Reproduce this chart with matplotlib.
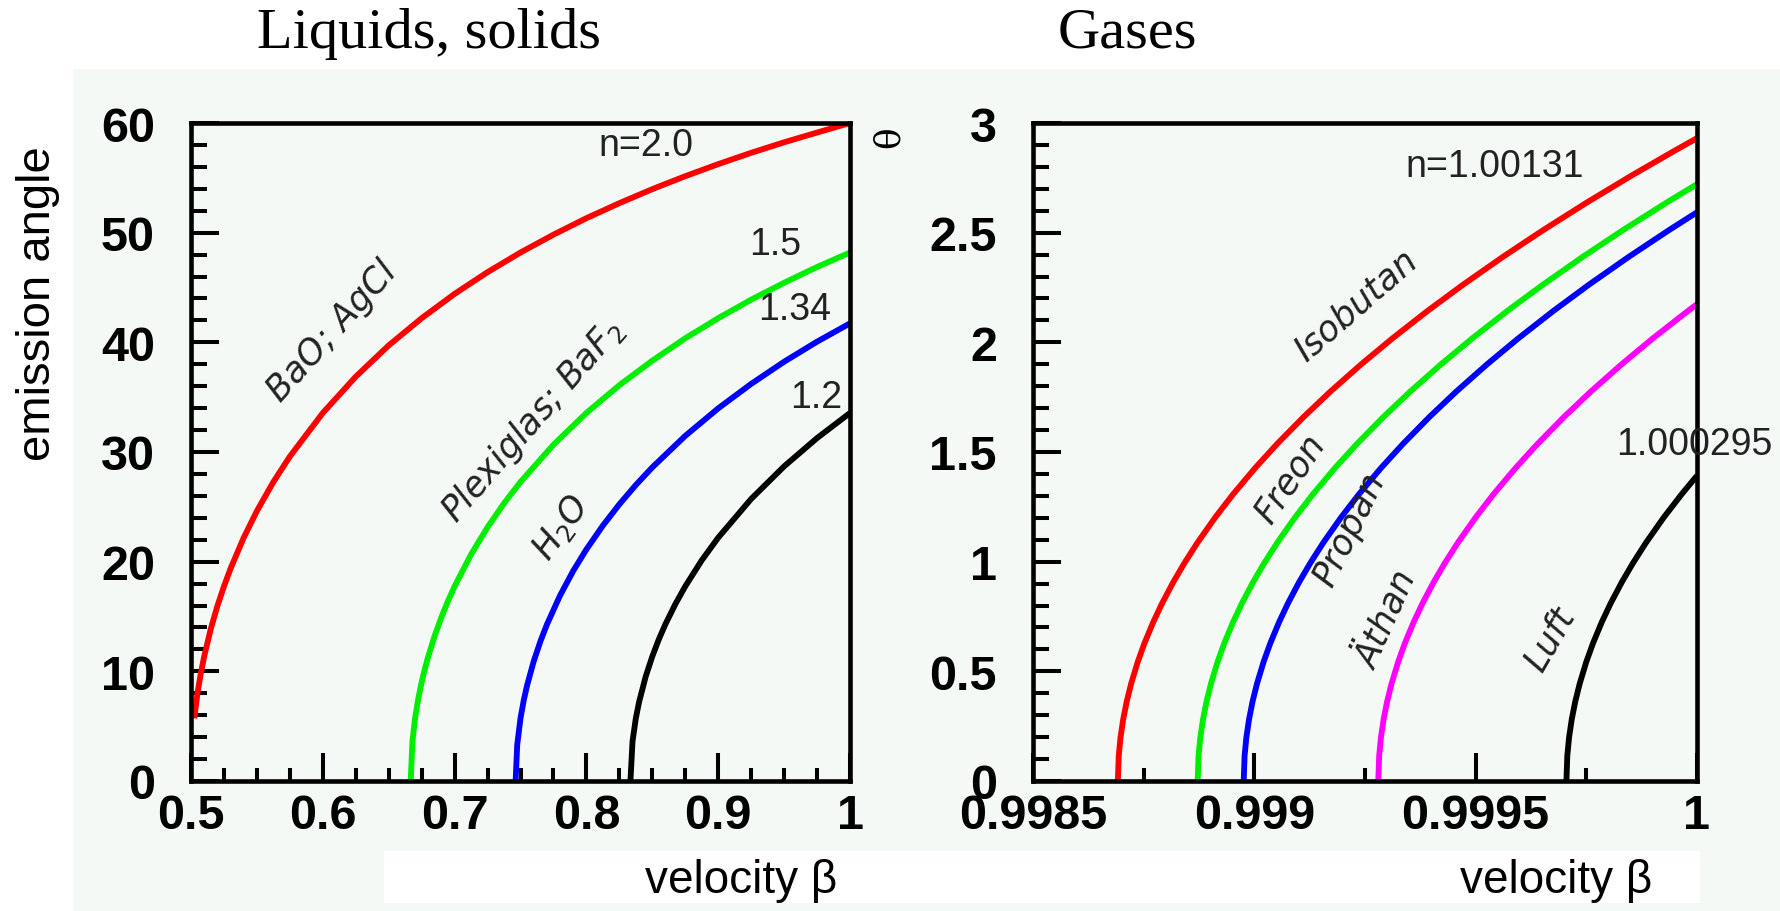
import matplotlib
matplotlib.use("Agg")
import matplotlib.pyplot as plt
from matplotlib.patches import Rectangle
from matplotlib.ticker import FixedLocator, MultipleLocator

# ---------------- data ----------------
# Left panel: liquids / solids, emission angle in degrees vs beta
red_beta = [0.5025, 0.505, 0.5075, 0.51, 0.515, 0.52, 0.525, 0.53, 0.54, 0.55, 0.5625, 0.575,
            0.6, 0.625, 0.65, 0.675, 0.7, 0.725, 0.75, 0.775, 0.8, 0.825, 0.85, 0.875, 0.9,
            0.925, 0.95, 0.975, 1.0]
red_theta = [5.72, 8.07, 9.86, 11.36, 13.87, 15.95, 17.75, 19.37, 22.19, 24.62, 27.27, 29.59,
             33.56, 36.87, 39.72, 42.20, 44.42, 46.40, 48.19, 49.82, 51.32, 52.69, 53.97, 55.15,
             56.25, 57.28, 58.24, 59.13, 60.0]

green_beta = [0.6667, 0.668, 0.67, 0.6725, 0.675, 0.6775, 0.68, 0.685, 0.69, 0.695, 0.7, 0.7125,
              0.725, 0.7375, 0.75, 0.775, 0.8, 0.825, 0.85, 0.875, 0.9, 0.925, 0.95, 0.975, 1.0]
green_theta = [0.0, 3.62, 5.72, 7.55, 9.01, 10.26, 11.36, 13.28, 14.94, 16.42, 17.75, 20.66,
               23.14, 25.32, 27.27, 30.66, 33.56, 36.09, 38.33, 40.37, 42.20, 43.89, 45.43,
               46.87, 48.19]

blue_beta = [0.7463, 0.7475, 0.75, 0.7525, 0.755, 0.76, 0.765, 0.77, 0.78, 0.79, 0.8, 0.8125,
             0.825, 0.8375, 0.85, 0.875, 0.9, 0.925, 0.95, 0.975, 1.0]
blue_theta = [0.0, 3.29, 5.72, 7.38, 8.72, 10.91, 12.70, 14.26, 16.91, 19.16, 21.12, 23.29,
              25.23, 26.99, 28.60, 31.47, 33.98, 36.21, 38.23, 40.06, 41.73]

black_beta = [0.8334, 0.835, 0.8375, 0.84, 0.845, 0.85, 0.855, 0.86, 0.8675, 0.875, 0.8875,
              0.9, 0.925, 0.95, 0.975, 1.0]
black_theta = [0.0, 3.62, 5.72, 7.22, 9.53, 11.36, 12.93, 14.31, 16.13, 17.75, 20.12,
               22.19, 25.72, 28.69, 31.27, 33.56]

# Right panel: gases, theta in degrees vs beta
gas_red_beta = [0.9986917, 0.9986937, 0.9986977, 0.9987037, 0.9987117, 0.9987217, 0.9987367,
                0.9987517, 0.9987717, 0.9987917, 0.9988167, 0.9988417, 0.9988717, 0.9989117,
                0.9989517, 0.9990017, 0.9990517, 0.9991117, 0.9991717, 0.9992417, 0.9993117,
                0.9993917, 0.9994717, 0.9995617, 0.9996517, 0.9997517, 0.9998517, 0.9999517, 1.0]
gas_red_theta = [0.0, 0.1146, 0.1985, 0.2807, 0.3624, 0.4438, 0.5436, 0.6277, 0.7248, 0.8103,
                 0.9059, 0.9924, 1.0871, 1.2019, 1.3066, 1.4267, 1.5374, 1.6606, 1.7753, 1.9003,
                 2.0176, 2.1439, 2.2630, 2.3900, 2.5106, 2.6382, 2.7598, 2.8763, 2.931]

gas_green_beta = [0.998872, 0.998874, 0.998878, 0.998884, 0.998892, 0.998902, 0.998917,
                  0.998932, 0.998952, 0.998972, 0.998997, 0.999022, 0.999052, 0.999092,
                  0.999132, 0.999182, 0.999232, 0.999292, 0.999352, 0.999422, 0.999492,
                  0.999572, 0.999652, 0.999742, 0.999832, 0.999932, 1.0]
gas_green_theta = [0.0, 0.1146, 0.1985, 0.2807, 0.3624, 0.4438, 0.5436, 0.6277, 0.7248, 0.8103,
                   0.9059, 0.9924, 1.0871, 1.2019, 1.3066, 1.4267, 1.5374, 1.6606, 1.7753,
                   1.9003, 2.0176, 2.1439, 2.2630, 2.3900, 2.5106, 2.6382, 2.721]

gas_blue_beta = [0.998976, 0.998978, 0.998982, 0.998988, 0.998996, 0.999006, 0.999021,
                 0.999036, 0.999056, 0.999076, 0.999101, 0.999126, 0.999156, 0.999196,
                 0.999236, 0.999286, 0.999336, 0.999396, 0.999456, 0.999526, 0.999596,
                 0.999676, 0.999756, 0.999846, 0.999936, 1.0]
gas_blue_theta = [0.0, 0.1146, 0.1985, 0.2807, 0.3624, 0.4438, 0.5436, 0.6277, 0.7248, 0.8103,
                  0.9059, 0.9924, 1.0871, 1.2019, 1.3066, 1.4267, 1.5374, 1.6606, 1.7753,
                  1.9003, 2.0176, 2.1439, 2.2630, 2.3900, 2.5106, 2.593]

gas_mag_beta = [0.99928, 0.999282, 0.999286, 0.999292, 0.9993, 0.99931, 0.999325, 0.99934,
                0.99936, 0.99938, 0.999405, 0.99943, 0.99946, 0.9995, 0.99954, 0.99959,
                0.99964, 0.9997, 0.99976, 0.99983, 0.9999, 0.99998, 1.0]
gas_mag_theta = [0.0, 0.1146, 0.1985, 0.2807, 0.3624, 0.4438, 0.5436, 0.6277, 0.7248, 0.8103,
                 0.9059, 0.9924, 1.0871, 1.2019, 1.3066, 1.4267, 1.5374, 1.6606, 1.7753,
                 1.9003, 2.0176, 2.1439, 2.174]

gas_black_beta = [0.999705, 0.999707, 0.999711, 0.999717, 0.999725, 0.999735, 0.99975,
                  0.999765, 0.999785, 0.999805, 0.99983, 0.999855, 0.999885, 0.999925,
                  0.999965, 1.0]
gas_black_theta = [0.0, 0.1146, 0.1985, 0.2807, 0.3624, 0.4438, 0.5436, 0.6277, 0.7248, 0.8103,
                   0.9059, 0.9924, 1.0871, 1.2019, 1.3066, 1.392]

left_xticks = [0.5, 0.6, 0.7, 0.8, 0.9, 1.0]
left_xticklabels = ["0.5", "0.6", "0.7", "0.8", "0.9", "1"]
left_yticks = [0, 10, 20, 30, 40, 50, 60]
left_yticklabels = ["0", "10", "20", "30", "40", "50", "60"]
right_xticks = [0.9985, 0.999, 0.9995, 1.0]
right_xticklabels = ["0.9985", "0.999", "0.9995", "1"]
right_yticks = [0, 0.5, 1, 1.5, 2, 2.5, 3]
right_yticklabels = ["0", "0.5", "1", "1.5", "2", "2.5", "3"]

# ---------------- figure ----------------
W, H = 1780, 912
DPI = 100
fig = plt.figure(figsize=(W / DPI, H / DPI), dpi=DPI)
fig.patch.set_facecolor("white")

TINT = "#f5f9f6"


def fx(px):
    return px / W


def fy(py):
    return 1 - py / H


# background tinted area and white box behind the axis titles
fig.add_artist(Rectangle((fx(73), 0), 1 - fx(73), fy(70), transform=fig.transFigure,
                         facecolor=TINT, edgecolor="none", zorder=-10))
fig.add_artist(Rectangle((fx(384), fy(904)), fx(1700 - 384), (904 - 852) / H,
                         transform=fig.transFigure, facecolor="white", edgecolor="none",
                         zorder=-9))

axL = fig.add_axes([fx(191), fy(782), fx(850 - 191), (782 - 124) / H])
axR = fig.add_axes([fx(1033), fy(782), fx(1697 - 1033), (782 - 124) / H])

tick_font = dict(family="Liberation Sans", weight="bold", size=35)
LW = 4.2

for ax in (axL, axR):
    ax.set_facecolor(TINT)
    for s in ax.spines.values():
        s.set_linewidth(3.3)
        s.set_color("black")
    ax.tick_params(which="both", direction="in", top=False, right=False, width=2.9,
                   color="black")
    ax.tick_params(which="major", length=20)
    ax.tick_params(axis="x", which="minor", length=9.5)
    ax.tick_params(axis="y", which="minor", length=11.5)
    ax.tick_params(axis="x", which="major", pad=9)
    ax.tick_params(axis="y", which="major", pad=26)

# ---- left panel ----
axL.plot(red_beta, red_theta, color="#ff0000", lw=LW, solid_capstyle="butt")
axL.plot(green_beta, green_theta, color="#00ee00", lw=LW, solid_capstyle="butt")
axL.plot(blue_beta, blue_theta, color="#0000ff", lw=LW, solid_capstyle="butt")
axL.plot(black_beta, black_theta, color="black", lw=LW, solid_capstyle="butt")
axL.set_xlim(0.5, 1.0)
axL.set_ylim(0, 60)
axL.xaxis.set_major_locator(FixedLocator(left_xticks))
axL.xaxis.set_minor_locator(MultipleLocator(0.025))
axL.yaxis.set_major_locator(FixedLocator(left_yticks))
axL.yaxis.set_minor_locator(MultipleLocator(2))
axL.set_xticklabels(left_xticklabels, **tick_font)
axL.set_yticklabels(left_yticklabels, **tick_font)

ann = dict(family="Liberation Sans", size=27, color="#222222", ha="center", va="center")
ital = dict(family="DejaVu Sans", style="italic", size=25, color="#222222",
            ha="center", va="center", rotation_mode="anchor")
axL.text(0.845, 58.0, "n=2.0", **ann)
axL.text(0.943, 49.0, "1.5", **ann)
axL.text(0.958, 43.0, "1.34", **ann)
axL.text(0.974, 35.0, "1.2", **ann)
axL.text(0.607, 41.1, "BaO; AgCl", rotation=48, **ital)
axL.text(0.759, 32.9, "Plexiglas; BaF$_2$", rotation=49, **ital)
axL.text(0.7812, 23.2, "H$_2$O", rotation=54, **ital)

# ---- right panel ----
axR.plot(gas_red_beta, gas_red_theta, color="#ff0000", lw=LW, solid_capstyle="butt")
axR.plot(gas_green_beta, gas_green_theta, color="#00ee00", lw=LW, solid_capstyle="butt")
axR.plot(gas_blue_beta, gas_blue_theta, color="#0000ff", lw=LW, solid_capstyle="butt")
axR.plot(gas_mag_beta, gas_mag_theta, color="#ff00ff", lw=LW, solid_capstyle="butt")
axR.plot(gas_black_beta, gas_black_theta, color="black", lw=LW, solid_capstyle="butt")
axR.set_xlim(0.9985, 1.0)
axR.set_ylim(0, 3)
axR.xaxis.set_major_locator(FixedLocator(right_xticks))
axR.xaxis.set_minor_locator(FixedLocator([0.99875, 0.99925, 0.99975]))
axR.yaxis.set_major_locator(FixedLocator(right_yticks))
axR.yaxis.set_minor_locator(MultipleLocator(0.1))
axR.set_xticklabels(right_xticklabels, **tick_font)
axR.set_yticklabels(right_yticklabels, **tick_font)

axR.text(0.999543, 2.805, "n=1.00131", **ann)
ann_r = dict(ann)
ann_r["ha"] = "right"
axR.text(1.000170, 1.537, "1.000295", clip_on=False, **ann_r)
axR.text(0.99923, 2.17, "Isobutan", rotation=41, **ital)
axR.text(0.99908, 1.38, "Freon", rotation=56, **ital)
axR.text(0.999214, 1.15, "Propan", rotation=64, **ital)
axR.text(0.99930, 0.74, "Äthan", rotation=66, **ital)
axR.text(0.999667, 0.65, "Luft", rotation=60, **ital)

# ---- titles and axis labels ----
fig.text(fx(429), fy(34), "Liquids, solids", family="Liberation Serif", size=42,
         ha="center", va="center")
fig.text(fx(1127), fy(34), "Gases", family="Liberation Serif", size=42,
         ha="center", va="center")
fig.text(fx(38), fy(304), "emission angle", family="Liberation Sans", size=34,
         rotation=90, ha="center", va="center")
fig.text(fx(889), fy(137), "θ", family="DejaVu Serif", size=26,
         rotation=90, ha="center", va="center")
fig.text(fx(837), fy(881), "velocity β", family="Liberation Sans", size=33,
         ha="right", va="center")
fig.text(fx(1652), fy(881), "velocity β", family="Liberation Sans", size=33,
         ha="right", va="center")

fig.savefig("out.png", dpi=DPI, facecolor="white")
